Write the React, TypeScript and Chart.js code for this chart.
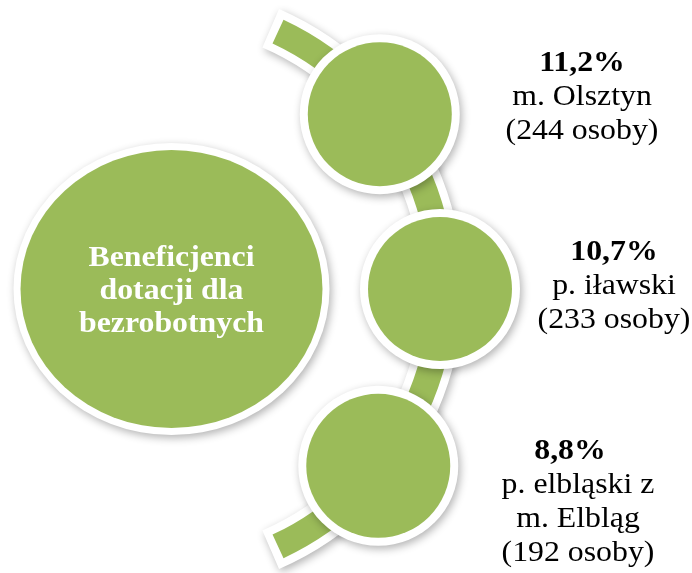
import React, { useEffect, useRef } from "react";
import { Chart, registerables } from "chart.js";

Chart.register(...registerables);

// ---- data ----
const centerLabel = ["Beneficjenci", "dotacji dla", "bezrobotnych"];
const regionNames = [["m. Olsztyn"], ["p. iławski"], ["p. elbląski z", "m. Elbląg"]];
const shares = [11.2, 10.7, 8.8];
const persons = [244, 233, 192];

// ---- layout ----
const W = 692;
const H = 573;
const GREEN = "#9BBB59";
const ARC = { cx: 158, cy: 289, r: 284, band: 26, border: 8, endDeg: 65 };
const NODE_ANGLES = [-38, 0, 38.5];
const NODE_R = 72;
const NODE_BORDER = 8;
const BIG = { cx: 171.5, cy: 289, rx: 151, ry: 139, border: 7 };
const TEXT_POS = [
  { x: 582, y: 63, head: 0 },
  { x: 614, y: 252, head: 0 },
  { x: 578, y: 451, head: -8 },
];
const LINE_H = 34;
const STRETCH = 1.06;
const FONT = "'Liberation Serif', 'Times New Roman', serif";

const fmt = (v: number) => v.toFixed(1).replace(".", ",") + "%";

const diagramPlugin = {
  id: "diagram",
  afterDatasetsDraw(chart: any) {
    const ctx = chart.ctx as CanvasRenderingContext2D;
    const xs = chart.scales.x;
    const ys = chart.scales.y;
    const px = (v: number) => xs.getPixelForValue(v);
    const py = (v: number) => ys.getPixelForValue(v);

    const shadowOn = () => {
      ctx.shadowColor = "rgba(0,0,0,0.3)";
      ctx.shadowBlur = 8;
      ctx.shadowOffsetX = 2;
      ctx.shadowOffsetY = 3;
    };
    const shadowOff = () => {
      ctx.shadowColor = "transparent";
      ctx.shadowBlur = 0;
      ctx.shadowOffsetX = 0;
      ctx.shadowOffsetY = 0;
    };
    const text = (t: string, x: number, y: number) => {
      ctx.save();
      ctx.translate(x, y);
      ctx.scale(STRETCH, 1);
      ctx.fillText(t, 0, 0);
      ctx.restore();
    };

    ctx.save();
    // arc band
    const acx = px(ARC.cx);
    const acy = py(ARC.cy);
    const a0 = (-ARC.endDeg * Math.PI) / 180;
    const a1 = (ARC.endDeg * Math.PI) / 180;
    const da = ARC.border / ARC.r;
    ctx.lineCap = "butt";
    shadowOn();
    ctx.strokeStyle = "#ffffff";
    ctx.lineWidth = ARC.band + 2 * ARC.border;
    ctx.beginPath();
    ctx.arc(acx, acy, ARC.r, a0 - da, a1 + da);
    ctx.stroke();
    shadowOff();
    ctx.strokeStyle = GREEN;
    ctx.lineWidth = ARC.band;
    ctx.beginPath();
    ctx.arc(acx, acy, ARC.r, a0, a1);
    ctx.stroke();

    // big circle
    const bx = px(BIG.cx);
    const by = py(BIG.cy);
    shadowOn();
    ctx.fillStyle = "#ffffff";
    ctx.beginPath();
    ctx.ellipse(bx, by, BIG.rx + BIG.border, BIG.ry + BIG.border, 0, 0, Math.PI * 2);
    ctx.fill();
    shadowOff();
    ctx.fillStyle = GREEN;
    ctx.beginPath();
    ctx.ellipse(bx, by, BIG.rx, BIG.ry, 0, 0, Math.PI * 2);
    ctx.fill();

    ctx.fillStyle = "#ffffff";
    ctx.font = `bold 30px ${FONT}`;
    ctx.textAlign = "center";
    ctx.textBaseline = "middle";
    centerLabel.forEach((t, i) => {
      text(t, bx, by + 2 + (i - (centerLabel.length - 1) / 2) * 33);
    });

    // nodes
    const meta = chart.getDatasetMeta(0);
    meta.data.forEach((el: any) => {
      const nx = el.x;
      const ny = el.y;
      shadowOn();
      ctx.fillStyle = "#ffffff";
      ctx.beginPath();
      ctx.arc(nx, ny, NODE_R + NODE_BORDER, 0, Math.PI * 2);
      ctx.fill();
      shadowOff();
      ctx.fillStyle = GREEN;
      ctx.beginPath();
      ctx.arc(nx, ny, NODE_R, 0, Math.PI * 2);
      ctx.fill();
    });

    // labels
    ctx.fillStyle = "#000000";
    shares.forEach((s, i) => {
      const lines = [fmt(s), ...regionNames[i], `(${persons[i]} osoby)`];
      const tx = px(TEXT_POS[i].x);
      const ty = py(TEXT_POS[i].y);
      lines.forEach((t, j) => {
        ctx.font = j === 0 ? `bold 30px ${FONT}` : `30px ${FONT}`;
        text(t, tx + (j === 0 ? TEXT_POS[i].head : 0), ty + j * LINE_H);
      });
    });
    ctx.restore();
  },
};

export default function App() {
  const ref = useRef<HTMLCanvasElement | null>(null);
  useEffect(() => {
    document.body.style.margin = "0";
    const canvas = ref.current;
    if (!canvas) return;
    const nodePoints = shares.map((s, i) => {
      const a = (NODE_ANGLES[i] * Math.PI) / 180;
      return { x: ARC.cx + ARC.r * Math.cos(a) - 2, y: ARC.cy + ARC.r * Math.sin(a), v: s };
    });
    const chart = new Chart(canvas, {
      type: "scatter",
      data: {
        datasets: [
          {
            data: nodePoints,
            pointRadius: 0,
            pointHoverRadius: 0,
          },
        ],
      },
      options: {
        responsive: false,
        animation: false,
        events: [],
        layout: { padding: 0 },
        plugins: { legend: { display: false }, tooltip: { enabled: false } },
        scales: {
          x: { type: "linear", min: 0, max: W, display: false },
          y: { type: "linear", min: 0, max: H, reverse: true, display: false },
        },
      },
      plugins: [diagramPlugin],
    });
    return () => chart.destroy();
  }, []);
  return (
    <div style={{ width: W, height: H, background: "#fff" }}>
      <canvas ref={ref} width={W} height={H} style={{ display: "block" }} />
    </div>
  );
}
